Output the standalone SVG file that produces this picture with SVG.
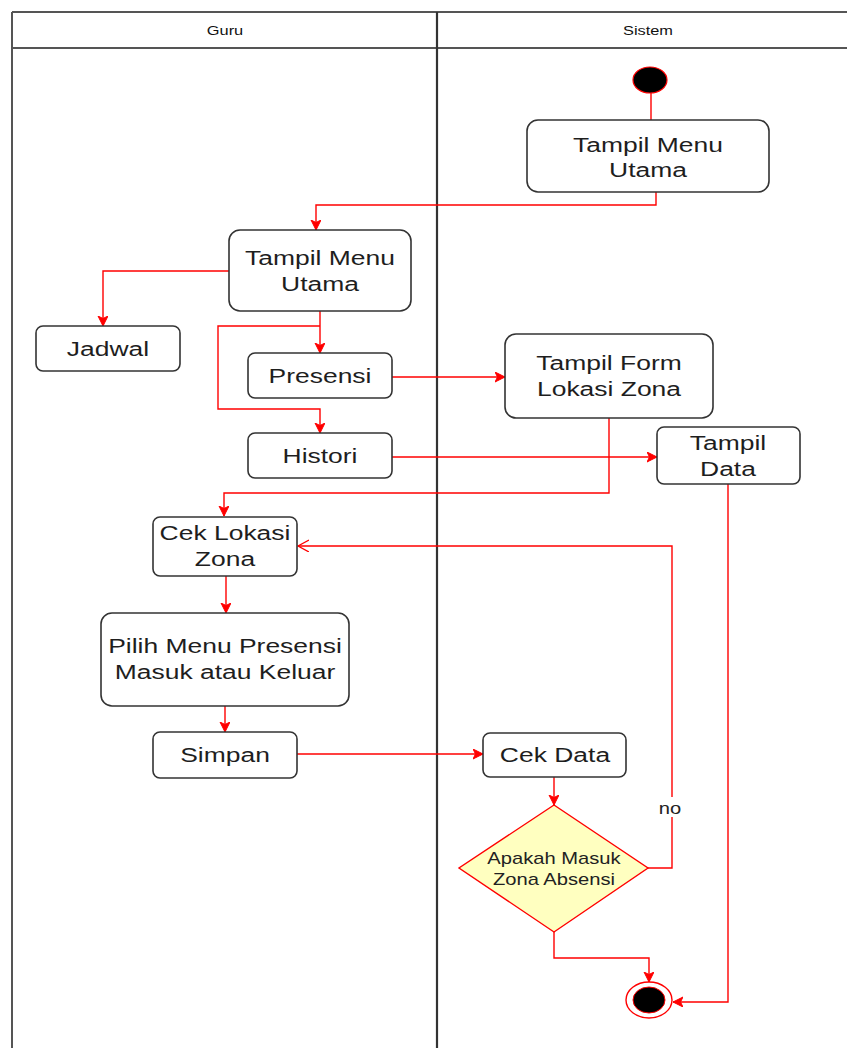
<svg xmlns="http://www.w3.org/2000/svg" width="847" height="1048" viewBox="0 0 847 1048">
<defs>
<marker id="arr" markerUnits="userSpaceOnUse" markerWidth="12" markerHeight="12" refX="10" refY="5" orient="auto">
<path d="M0,0 L10,5 L0,10 L2.5,5 z" fill="#ff0000" stroke="#ff0000" stroke-width="1"/>
</marker>
<marker id="open" markerUnits="userSpaceOnUse" markerWidth="14" markerHeight="14" refX="11" refY="6" orient="auto">
<path d="M0,0 L11,6 L0,12" fill="none" stroke="#ff0000" stroke-width="1.3"/>
</marker>
<style>
.lane{fill:none;stroke:#555;stroke-width:2}
.div{fill:none;stroke:#333;stroke-width:2.2}
.box{fill:#fff;stroke:#333;stroke-width:1.6}
.t{font-family:"Liberation Sans",Arial,sans-serif;font-size:21px;fill:#1e1e1e;text-anchor:middle}
.h{font-family:"Liberation Sans",Arial,sans-serif;font-size:13px;fill:#111;text-anchor:middle}
.s{font-family:"Liberation Sans",Arial,sans-serif;font-size:16px;fill:#222;text-anchor:middle}
.c{fill:none;stroke:#ff0000;stroke-width:1.4}
</style>
</defs>
<rect width="847" height="1048" fill="#fff"/>
<g id="lanes">
<line x1="12" y1="12" x2="847" y2="12" class="lane"/>
<line x1="12" y1="48" x2="847" y2="48" class="lane"/>
<line x1="12" y1="12" x2="12" y2="1048" class="lane"/>
<line x1="437" y1="12" x2="437" y2="1048" class="div"/>
<text class="h" transform="translate(225,0) scale(1.26,1)" x="0" y="35">Guru</text>
<text class="h" transform="translate(648,0) scale(1.26,1)" x="0" y="35">Sistem</text>
</g>
<g id="connectors">
<path class="c" d="M651,93 V120"/>
<path class="c" d="M656,192 V205 H316 V230" marker-end="url(#arr)"/>
<path class="c" d="M229,271 H103 V326" marker-end="url(#arr)"/>
<path class="c" d="M320,311 V353" marker-end="url(#arr)"/>
<path class="c" d="M320,326 H218 V409 H320 V433" marker-end="url(#arr)"/>
<path class="c" d="M392,377 H505" marker-end="url(#arr)"/>
<path class="c" d="M392,457 H657" marker-end="url(#arr)"/>
<path class="c" d="M609,418 V493 H224 V516" marker-end="url(#arr)"/>
<path class="c" d="M226,576 V613" marker-end="url(#arr)"/>
<path class="c" d="M225,706 V732" marker-end="url(#arr)"/>
<path class="c" d="M297,754 H483" marker-end="url(#arr)"/>
<path class="c" d="M554,777 V805" marker-end="url(#arr)"/>
<path class="c" d="M648,868 H672 V546 H298" marker-end="url(#open)"/>
<rect x="659" y="797" width="24" height="20" fill="#fff"/>
<text class="s" transform="translate(670,0) scale(1.26,1)" x="0" y="814">no</text>
<path class="c" d="M554,932 V958 H649 V982" marker-end="url(#arr)"/>
<path class="c" d="M728,484 V1002 H673" marker-end="url(#arr)"/>
</g>
<g id="start">
<ellipse cx="650" cy="80" rx="17" ry="13" fill="#000" stroke="#ff0000" stroke-width="1.2"/>
</g>
<g id="tmu-sistem">
<rect class="box" x="527" y="120" width="242" height="72" rx="11"/>
<text class="t" transform="translate(648,0) scale(1.26,1)" x="0" y="152">Tampil Menu</text>
<text class="t" transform="translate(648,0) scale(1.26,1)" x="0" y="177">Utama</text>
</g>
<g id="tmu-guru">
<rect class="box" x="229" y="230" width="182" height="81" rx="11"/>
<text class="t" transform="translate(320,0) scale(1.26,1)" x="0" y="265">Tampil Menu</text>
<text class="t" transform="translate(320,0) scale(1.26,1)" x="0" y="291">Utama</text>
</g>
<g id="jadwal">
<rect class="box" x="36" y="326" width="144" height="45" rx="7"/>
<text class="t" transform="translate(108,0) scale(1.26,1)" x="0" y="356">Jadwal</text>
</g>
<g id="presensi">
<rect class="box" x="248" y="353" width="144" height="45" rx="7"/>
<text class="t" transform="translate(320,0) scale(1.26,1)" x="0" y="383">Presensi</text>
</g>
<g id="histori">
<rect class="box" x="248" y="433" width="144" height="45" rx="7"/>
<text class="t" transform="translate(320,0) scale(1.26,1)" x="0" y="463">Histori</text>
</g>
<g id="tampil-form">
<rect class="box" x="505" y="334" width="208" height="84" rx="11"/>
<text class="t" transform="translate(609,0) scale(1.26,1)" x="0" y="370">Tampil Form</text>
<text class="t" transform="translate(609,0) scale(1.26,1)" x="0" y="396">Lokasi Zona</text>
</g>
<g id="tampil-data">
<rect class="box" x="657" y="427" width="143" height="57" rx="7"/>
<text class="t" transform="translate(728,0) scale(1.26,1)" x="0" y="450">Tampil</text>
<text class="t" transform="translate(728,0) scale(1.26,1)" x="0" y="476">Data</text>
</g>
<g id="cek-lokasi">
<rect class="box" x="153" y="517" width="144" height="59" rx="7"/>
<text class="t" transform="translate(225,0) scale(1.26,1)" x="0" y="540">Cek Lokasi</text>
<text class="t" transform="translate(225,0) scale(1.26,1)" x="0" y="566">Zona</text>
</g>
<g id="pilih-menu">
<rect class="box" x="101" y="613" width="248" height="93" rx="11"/>
<text class="t" transform="translate(225,0) scale(1.26,1)" x="0" y="653">Pilih Menu Presensi</text>
<text class="t" transform="translate(225,0) scale(1.26,1)" x="0" y="679">Masuk atau Keluar</text>
</g>
<g id="simpan">
<rect class="box" x="153" y="732" width="144" height="46" rx="7"/>
<text class="t" transform="translate(225,0) scale(1.26,1)" x="0" y="762">Simpan</text>
</g>
<g id="cek-data">
<rect class="box" x="483" y="733" width="143" height="44" rx="7"/>
<text class="t" transform="translate(555,0) scale(1.26,1)" x="0" y="762">Cek Data</text>
</g>
<g id="decision">
<polygon points="554,805 648,868 554,932 459,868" fill="#ffffc0" stroke="#ff0000" stroke-width="1.4"/>
<text class="s" transform="translate(554,0) scale(1.26,1)" x="0" y="864">Apakah Masuk</text>
<text class="s" transform="translate(554,0) scale(1.26,1)" x="0" y="885">Zona Absensi</text>
</g>
<g id="end">
<ellipse cx="649" cy="1000" rx="23" ry="18" fill="#fff" stroke="#ff0000" stroke-width="1.4"/>
<ellipse cx="649" cy="1000" rx="16" ry="13" fill="#000" stroke="#ff0000" stroke-width="1"/>
</g>
</svg>
